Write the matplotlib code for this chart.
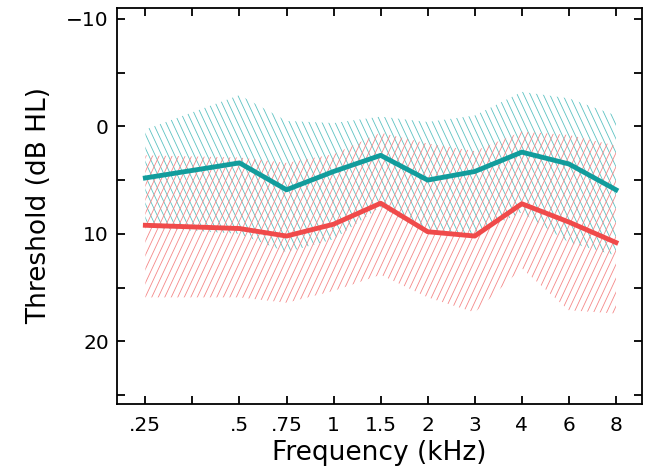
import numpy as np
import matplotlib
matplotlib.use('Agg')
import matplotlib.pyplot as plt
from matplotlib.collections import LineCollection

plt.rcParams['font.family'] = ['DejaVu Sans']

# 频率刻度 (kHz), .35 处只有刻度没有标签
tick_labels = ['.25', '', '.5', '.75', '1', '1.5', '2', '3', '4', '6', '8']
freqs = ['.25', '.5', '.75', '1', '1.5', '2', '3', '4', '6', '8']

# 青色组: 均值及阴影上下界 (dB HL)
teal_mean = [4.8, 3.4, 5.9, 4.2, 2.7, 5.0, 4.2, 2.4, 3.5, 5.9]
teal_top = [0.3, -2.9, -0.5, -0.3, -0.9, -0.4, -1.0, -3.2, -2.6, -1.0]
teal_bot = [9.4, 10.0, 11.7, 10.5, 7.5, 10.0, 10.0, 8.0, 10.8, 12.0]

# 红色组
red_mean = [9.2, 9.5, 10.2, 9.1, 7.15, 9.8, 10.2, 7.2, 8.9, 10.8]
red_top = [2.7, 2.9, 3.4, 2.6, 0.6, 1.6, 2.3, 0.5, 0.8, 1.8]
red_bot = [15.9, 15.9, 16.4, 15.3, 13.8, 15.9, 17.3, 13.2, 17.1, 17.4]

x = np.array([tick_labels.index(f) for f in freqs])


def hatch_band(ax, lo, hi, color, sign):
    # 透明填充只用来做裁剪路径
    poly = ax.fill_between(x, lo, hi, facecolor='none', edgecolor='none')
    step = 0.0124          # 线间距 (axes 比例)
    run = 0.352            # 斜线倾角约 65 度
    segs = [[(x0, 0), (x0 + sign * run, 1)] for x0 in np.arange(-0.5, 1.5, step)]
    lc = LineCollection(segs, transform=ax.transAxes, colors=color, linewidths=0.6, zorder=1)
    lc.set_clip_path(poly.get_paths()[0], ax.transData)
    ax.add_artist(lc)


fig = plt.figure(figsize=(6.47, 4.68), dpi=100)
ax = fig.add_axes([0.181, 0.137, 0.811, 0.846])

hatch_band(ax, teal_top, teal_bot, '#5cc2c2', -1)
hatch_band(ax, red_top, red_bot, '#f58888', 1)

ax.plot(x, teal_mean, color='#129c9c', lw=3.5, zorder=3)
ax.plot(x, red_mean, color='#f04a4a', lw=3.5, zorder=3)

ax.set_xlim(-0.6, 10.55)
ax.set_ylim(25.8, -11)
ax.set_xticks(range(len(tick_labels)))
ax.set_xticklabels(tick_labels)
ax.set_yticks([-10, 0, 10, 20])
ax.set_yticklabels(['\u221210', '0', '10', '20'])
ax.set_yticks([-5, 5, 15, 25], minor=True)

ax.tick_params(which='both', direction='in', length=6, width=1.3,
               top=True, right=True, labelsize=14.5)
ax.tick_params(axis='x', pad=9)
ax.tick_params(axis='y', pad=6)
for s in ax.spines.values():
    s.set_linewidth(1.3)

ax.set_xlabel('Frequency (kHz)', fontsize=19, labelpad=3)
ax.set_ylabel('Threshold (dB HL)', fontsize=19, labelpad=10)

fig.savefig('out.png', dpi=100)
